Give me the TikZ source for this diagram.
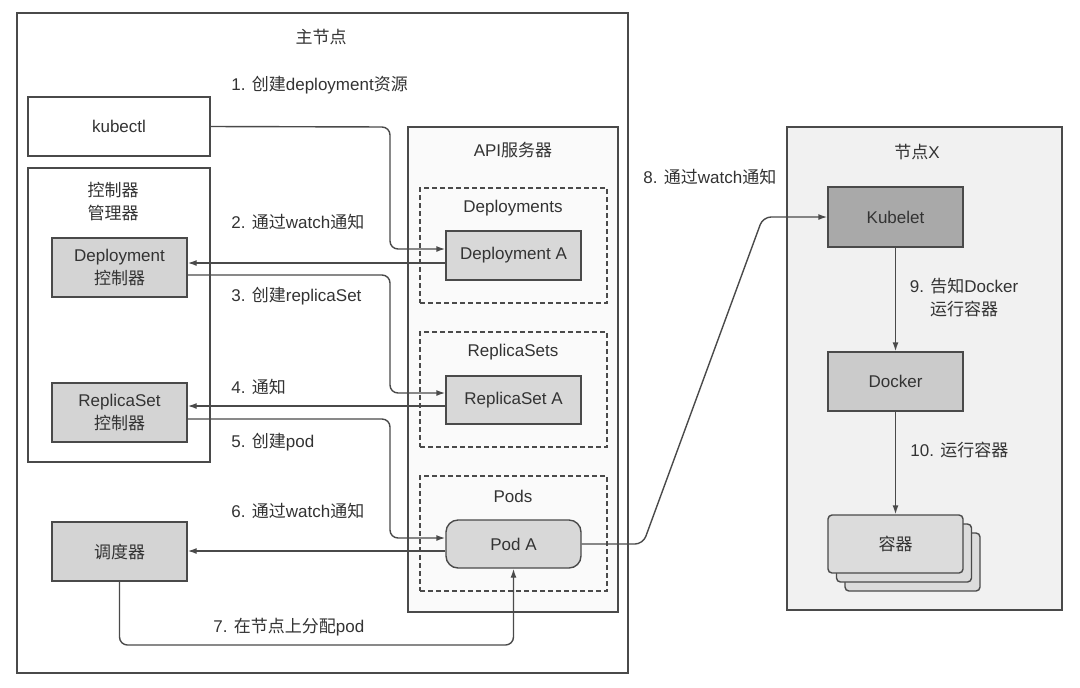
\documentclass[tikz,border=0pt]{standalone}
\usepackage{fontspec}
\setmainfont{Liberation Sans}
\newfontfamily\zh{Noto Sans CJK SC}
\usetikzlibrary{arrows.meta}
\definecolor{ln}{HTML}{4A4A4A}
\definecolor{txt}{HTML}{333333}
\definecolor{ctrlfill}{HTML}{D4D4D4}
\definecolor{resfill}{HTML}{D8D8D8}
\definecolor{kubefill}{HTML}{A9A9A9}
\definecolor{dockfill}{HTML}{CBCBCB}
\definecolor{contfill}{HTML}{DCDCDC}
\definecolor{nodebg}{HTML}{F1F1F1}
\definecolor{apibg}{HTML}{FAFAFA}
\begin{document}
\begin{tikzpicture}[x=0.5pt,y=-0.5pt,
  font=\fontsize{8.5}{11.5}\selectfont,
  sz/.style 2 args={minimum width=#1*0.5pt, minimum height=#2*0.5pt, inner sep=0pt},
  box/.style={draw=ln, line width=0.7pt, align=center, text=txt},
  dbox/.style={draw=ln, line width=0.7pt, dash pattern=on 2.5pt off 1.5pt},
  lbl/.style={anchor=west, inner sep=0pt, text=txt},
  ttl/.style={inner sep=0pt, text=txt, align=center},
  conn/.style={draw=ln, line width=0.7pt, rounded corners=4pt},
  arr/.style={conn, -{Latex[length=4.5pt,width=3pt]}}
]
\useasboundingbox (0,0) rectangle (1080,687);
\fill[white] (0,0) rectangle (1080,687);

% main node
\node[box, sz={611}{660}, fill=white] (main) at (322.5,343) {};
\node[ttl] (mainlbl) at (321,37) {\zh 主节点};

% left column
\node[box, sz={182}{59}] (kubectl) at (119,126.5) {kubectl};
\node[box, sz={182}{294}] (ctrlmgr) at (119,315) {};
\node[ttl] (ctrlmgrlbl) at (113,201.5) {\zh 控制器\\\zh 管理器};
\node[box, sz={135}{59}, fill=ctrlfill] (depctrl) at (119.5,267.5) {Deployment\\{\zh 控制器}};
\node[box, sz={135}{59}, fill=ctrlfill] (rsctrl) at (119.5,412.5) {ReplicaSet\\{\zh 控制器}};
\node[box, sz={135}{59}, fill=ctrlfill] (sched) at (119.5,551.5) {\zh 调度器};

% API server
\node[box, sz={210}{485}, fill=apibg] (api) at (513,369.5) {};
\node[ttl] (apilbl) at (513,150) {API{\zh 服务器}};
\node[dbox, sz={187}{115}] (deps) at (513.5,245.5) {};
\node[ttl] (depslbl) at (513,208) {Deployments};
\node[box, sz={135}{49}, fill=resfill] (depA) at (513.5,255.5) {Deployment A};
\node[dbox, sz={187}{115}] (rss) at (513.5,389.5) {};
\node[ttl] (rsslbl) at (513,352) {ReplicaSets};
\node[box, sz={135}{48}, fill=resfill] (rsA) at (513.5,400) {ReplicaSet A};
\node[dbox, sz={187}{115}] (pods) at (513.5,533.5) {};
\node[ttl] (podslbl) at (513,496) {Pods};
\node[box, sz={135}{48}, fill=resfill, rounded corners=6pt] (podA) at (513.5,544) {Pod A};

% node X
\node[box, sz={275}{483}, fill=nodebg] (nodeX) at (924.5,368.5) {};
\node[ttl] (nodeXlbl) at (917,152) {{\zh 节点}X};
\node[box, sz={135}{60}, fill=kubefill] (kubelet) at (895.5,217) {Kubelet};
\node[box, sz={135}{59}, fill=dockfill] (docker) at (895.5,381.5) {Docker};
\node[box, sz={135}{58}, fill=contfill, rounded corners=2pt] (cont3) at (912.5,562) {};
\node[box, sz={135}{58}, fill=contfill, rounded corners=2pt] (cont2) at (904,553) {};
\node[box, sz={135}{58}, fill=contfill, rounded corners=2pt] (cont) at (895.5,544) {\zh 容器};

% connectors
\draw[arr] (kubectl.east) -- (390,127) -- (390,249) -- (depA.west|-0,249);
\draw[arr] (depA.west|-0,263) -- (depctrl.east|-0,263);
\draw[arr] (depctrl.east|-0,275) -- (390,275) -- (390,393) -- (rsA.west|-0,393);
\draw[arr] (rsA.west|-0,406) -- (rsctrl.east|-0,406);
\draw[arr] (rsctrl.east|-0,419) -- (390,419) -- (390,538) -- (podA.west|-0,538);
\draw[arr] (podA.west|-0,551) -- (sched.east|-0,551);
\draw[arr] (sched.south) -- (sched.south|-0,645) -- (podA.south|-0,645) -- (podA.south);
\draw[arr] (podA.east) -- (643,544) -- (763,217) -- (kubelet.west);
\draw[arr] (kubelet.south) -- (docker.north);
\draw[arr] (docker.south) -- (cont.north);

% labels
\node[lbl] (l1) at (231,85) {1. {\zh 创建}deployment{\zh 资源}};
\node[lbl] (l2) at (231,222) {2. {\zh 通过}watch{\zh 通知}};
\node[lbl] (l3) at (231,296) {3. {\zh 创建}replicaSet};
\node[lbl] (l4) at (231,387) {4. {\zh 通知}};
\node[lbl] (l5) at (231,442) {5. {\zh 创建}pod};
\node[lbl] (l6) at (231,511) {6. {\zh 通过}watch{\zh 通知}};
\node[lbl] (l7) at (213,627) {7. {\zh 在节点上分配}pod};
\node[lbl] (l8) at (643,177) {8. {\zh 通过}watch{\zh 通知}};
\node[ttl] (l9) at (964,298) {9. {\zh 告知}Docker\\{\zh 运行容器}};
\node[lbl] (l10) at (910,450) {10. {\zh 运行容器}};
\end{tikzpicture}
\end{document}
